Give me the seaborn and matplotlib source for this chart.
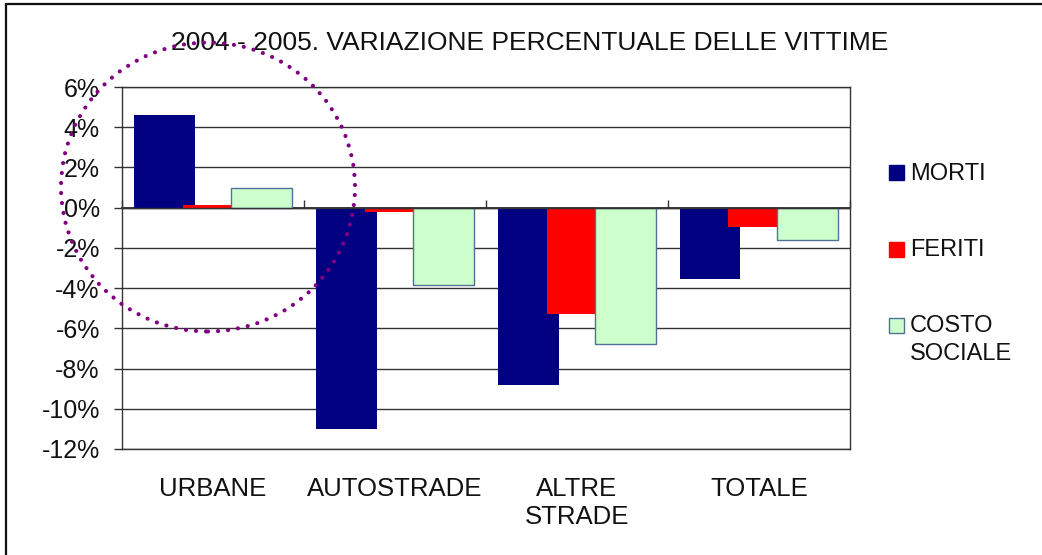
import matplotlib
matplotlib.use("Agg")
import matplotlib.pyplot as plt
import pandas as pd
import seaborn as sns
from matplotlib.patches import Ellipse, Rectangle
from matplotlib.ticker import FuncFormatter, MultipleLocator

# Data
categories = ["URBANE", "AUTOSTRADE", "ALTRE\nSTRADE", "TOTALE"]
series = ["MORTI", "FERITI", "COSTO\nSOCIALE"]
morti = [4.6, -11.0, -8.8, -3.55]
feriti = [0.15, -0.2, -5.3, -0.95]
costo_sociale = [1.0, -3.85, -6.8, -1.6]
colors = ["#000080", "#FF0000", "#CCFFCC"]
edges = ["#000080", "#FF0000", "#4F7396"]

df = pd.DataFrame({
    "categoria": categories * 3,
    "serie": [s for s in series for _ in categories],
    "valore": morti + feriti + costo_sociale,
})

sns.set_theme(style="white")
plt.rcParams["font.family"] = ["Liberation Sans", "DejaVu Sans"]

W, H = 1042, 555
fig = plt.figure(figsize=(W / 100, H / 100), dpi=100)
ax = fig.add_axes([0.1171, 0.191, 0.6986, 0.6522])

sns.barplot(data=df, x="categoria", y="valore", hue="serie", order=categories,
            hue_order=series, palette=colors, width=0.807, gap=-0.245,
            linewidth=0, saturation=1, legend=False, ax=ax)

# green bars have a thin blue-grey outline
for p in ax.patches[8:]:
    p.set_edgecolor(edges[2])
    p.set_linewidth(1)

ax.set_ylim(-12, 6)
ax.set_xlim(-0.5, 3.5)
ax.yaxis.set_major_locator(MultipleLocator(2))
ax.yaxis.set_major_formatter(FuncFormatter(lambda v, _: f"{v:.0f}%"))
ax.set_xlabel("")
ax.set_ylabel("")
ax.set_axisbelow(True)
ax.yaxis.grid(True, color="#333333", linewidth=1)
for s in ax.spines.values():
    s.set_visible(True)
    s.set_color("#333333")
    s.set_linewidth(1)

ax.tick_params(axis="y", left=True, length=6, width=1, color="#333333",
               labelsize=18, pad=10, labelcolor="#111111")
ax.tick_params(axis="x", bottom=False, labelsize=18.5, pad=14,
               labelcolor="#111111")

# zero axis with category separators
ax.axhline(0, color="#333333", linewidth=1)
zero_axis = ax.secondary_xaxis(2 / 3)
zero_axis.set_xticks([-0.5, 0.5, 1.5, 2.5, 3.5])
zero_axis.set_xticklabels([])
zero_axis.tick_params(direction="out", length=6, width=1, color="#333333")
zero_axis.spines["bottom"].set_color("#333333")

# legend: square aligned with the first line of each label
legend_y = [172.5, 249.5, 325.5]
for lab, c, e, yc in zip(series, colors, edges, legend_y):
    fig.patches.append(Rectangle((889 / W, 1 - (yc + 7.5) / H), 15 / W, 15 / H,
                                 transform=fig.transFigure, facecolor=c,
                                 edgecolor=e, linewidth=1))
    fig.text(910 / W, 1 - (yc - 10) / H, lab, ha="left", va="top",
             fontsize=17, color="#111111", linespacing=1.3)

fig.text(0.508, 0.922, "2004 - 2005. VARIAZIONE PERCENTUALE DELLE VITTIME",
         ha="center", va="center", fontsize=19, color="#111111")

# dotted highlight circle
fig.patches.append(Ellipse((208 / W, 1 - 187 / H), 294 / W, 289 / H,
                           transform=fig.transFigure, fill=False,
                           edgecolor="#800080", linewidth=3,
                           linestyle=(0, (0.01, 2.4)), capstyle="round",
                           zorder=10))
# outer frame
fig.patches.append(Rectangle((6 / W, -0.1), 1.2, 1 - 4 / H + 0.1,
                             transform=fig.transFigure, fill=False,
                             edgecolor="#111111", linewidth=1.6, zorder=9))

fig.savefig("out.png", dpi=100)
